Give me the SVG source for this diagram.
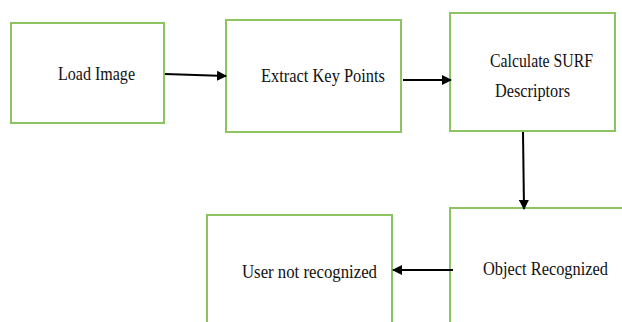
<svg xmlns="http://www.w3.org/2000/svg" width="622" height="322" viewBox="0 0 622 322">
<style>
.box{fill:#fff;stroke:#8cc461;stroke-width:2}
.t{font-family:"Liberation Serif",serif;font-size:18px;fill:#111}
.c{stroke:#000;stroke-width:2;fill:none;marker-end:url(#ah)}
</style>
<defs>
<marker id="ah" viewBox="0 0 10 10" refX="9" refY="5" markerWidth="5" markerHeight="5" orient="auto" markerUnits="strokeWidth">
<path d="M0,0 L10,5 L0,10 z" fill="#000"/>
</marker>
</defs>
<rect width="622" height="322" fill="#fff"/>
<g id="load-image">
<rect class="box" x="11" y="23" width="153" height="100"/>
<text class="t" x="58" y="80" textLength="77" lengthAdjust="spacingAndGlyphs">Load Image</text>
</g>
<g id="extract-key-points">
<rect class="box" x="226" y="20" width="175" height="112"/>
<text class="t" x="261" y="82" textLength="124" lengthAdjust="spacingAndGlyphs">Extract Key Points</text>
</g>
<g id="calculate-surf">
<rect class="box" x="450" y="13" width="165" height="118"/>
<text class="t" x="490" y="67" textLength="103" lengthAdjust="spacingAndGlyphs">Calculate SURF</text>
<text class="t" x="495" y="97" textLength="75" lengthAdjust="spacingAndGlyphs">Descriptors</text>
</g>
<g id="object-recognized">
<rect class="box" x="450" y="208" width="180" height="130"/>
<text class="t" x="483" y="275" textLength="125" lengthAdjust="spacingAndGlyphs">Object Recognized</text>
</g>
<g id="user-not-recognized">
<rect class="box" x="207" y="215" width="185" height="120"/>
<text class="t" x="242" y="278" textLength="135" lengthAdjust="spacingAndGlyphs">User not recognized</text>
</g>
<g id="connectors">
<line class="c" x1="165" y1="74" x2="226" y2="76"/>
<line class="c" x1="403" y1="80" x2="451" y2="80"/>
<line class="c" x1="523" y1="132" x2="524" y2="209"/>
<line class="c" x1="453" y1="270" x2="393" y2="270"/>
</g>
</svg>
